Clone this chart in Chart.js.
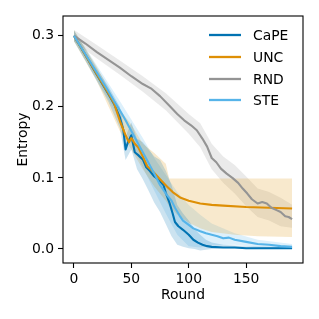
<!DOCTYPE html>
<html>
<head>
<meta charset="utf-8">
<script src="https://cdn.jsdelivr.net/npm/chart.js@4.4.1/dist/chart.umd.min.js"></script>
<style>
html,body{margin:0;padding:0;background:#fff;}
#wrap{width:319px;height:319px;}
</style>
</head>
<body>
<div id="wrap"><canvas id="c" width="319" height="319"></canvas></div>
<script>
// ---- data ----
const seriesNames = ["CaPE", "UNC", "RND", "STE"];
const xTicks = [0, 50, 100, 150];
const yTicks = [0.0, 0.1, 0.2, 0.3];

const capeRounds = [0,10,20,30,35,40,43,45,47,50,53,56,60,63,66,70,74,78,80,83,86,88,91,95,100,104,108,112,116,120,130,140,150,160,170,180,190];
const capeMean   = [0.300,0.273,0.245,0.218,0.204,0.185,0.168,0.140,0.150,0.160,0.136,0.132,0.126,0.115,0.110,0.102,0.097,0.090,0.079,0.066,0.050,0.038,0.032,0.027,0.020,0.013,0.009,0.006,0.004,0.003,0.002,0.002,0.001,0.001,0.001,0.001,0.001];
const capeBandRounds = [0,10,20,30,40,45,50,55,60,65,70,75,80,85,90,95,100,105,110,115,120,130,150,170,190];
const capeLo = [0.293,0.265,0.236,0.207,0.170,0.125,0.140,0.112,0.098,0.082,0.065,0.052,0.035,0.018,0.006,0.003,0.001,0.000,-0.002,-0.001,0.000,0.001,0.000,0.000,0.000];
const capeHi = [0.307,0.281,0.254,0.229,0.200,0.158,0.178,0.155,0.150,0.140,0.130,0.125,0.110,0.090,0.062,0.050,0.040,0.028,0.020,0.013,0.009,0.006,0.004,0.003,0.003];

const uncRounds = [0,10,20,30,35,40,45,48,50,53,56,60,64,67,70,75,81,86,93,100,110,120,130,150,170,190];
const uncMean   = [0.300,0.273,0.246,0.219,0.205,0.180,0.160,0.150,0.156,0.148,0.143,0.130,0.116,0.112,0.107,0.098,0.088,0.080,0.072,0.068,0.064,0.062,0.061,0.059,0.058,0.057];
const uncBandRounds = [0,20,40,50,60,70,80,83,90,100,110,120,140,160,190];
const uncLo = [0.292,0.236,0.166,0.140,0.112,0.088,0.068,0.060,0.048,0.037,0.029,0.024,0.020,0.018,0.017];
const uncHi = [0.308,0.256,0.196,0.175,0.148,0.135,0.120,0.099,0.099,0.099,0.099,0.099,0.099,0.099,0.099];

const rndRounds = [0,10,20,30,40,50,60,67,75,84,90,96,102,107,112,116,120,124,128,133,138,143,147,151,155,160,164,168,172,176,180,184,187,190];
const rndMean   = [0.300,0.289,0.277,0.266,0.255,0.243,0.232,0.226,0.215,0.200,0.190,0.181,0.174,0.167,0.155,0.144,0.128,0.122,0.113,0.106,0.100,0.093,0.085,0.078,0.070,0.064,0.066,0.064,0.058,0.055,0.052,0.046,0.045,0.042];
const rndBandRounds = [0,20,40,60,80,100,110,120,130,140,150,160,170,180,190];
const rndLo = [0.292,0.268,0.245,0.221,0.195,0.162,0.143,0.112,0.093,0.078,0.060,0.045,0.040,0.032,0.030];
const rndHi = [0.308,0.287,0.265,0.243,0.219,0.190,0.177,0.148,0.130,0.118,0.102,0.085,0.080,0.072,0.062];

const steRounds = [0,10,20,30,35,40,45,50,55,60,65,70,75,80,85,88,92,95,100,104,110,115,120,125,130,135,140,150,160,170,180,190];
const steMean   = [0.300,0.274,0.248,0.222,0.208,0.195,0.181,0.166,0.151,0.136,0.121,0.106,0.090,0.078,0.068,0.058,0.047,0.040,0.034,0.029,0.025,0.022,0.020,0.018,0.015,0.016,0.013,0.010,0.007,0.006,0.004,0.003];
const steBandRounds = [0,20,40,50,60,70,80,90,100,110,120,140,160,190];
const steLo = [0.292,0.238,0.182,0.150,0.115,0.082,0.050,0.020,0.004,0.002,0.005,0.006,0.002,0.000];
const steHi = [0.308,0.258,0.208,0.182,0.156,0.128,0.104,0.080,0.062,0.048,0.036,0.022,0.013,0.007];

// ---- styling ----
const colors = {CaPE:"#0173B2", UNC:"#DE8F05", RND:"#949494", STE:"#56B4E9"};
const fills  = {CaPE:"rgba(1,115,178,0.2)", UNC:"rgba(222,143,5,0.2)", RND:"rgba(148,148,148,0.2)", STE:"rgba(86,180,233,0.2)"};
const FONT = "'DejaVu Sans', sans-serif";
const FS = 13.9;

function pts(xs, ys){ return xs.map((x,i)=>({x:x, y:ys[i]})); }

function band(name, xs, lo, hi){
  return [
    {label:name+"_lo", data:pts(xs,lo), borderWidth:0, borderColor:"rgba(0,0,0,0)", pointRadius:0, fill:false, order:100},
    {label:name+"_hi", data:pts(xs,hi), borderWidth:0, borderColor:"rgba(0,0,0,0)", pointRadius:0, fill:"-1", backgroundColor:fills[name], order:100}
  ];
}
function line(name, xs, ys, ord){
  return {label:name, data:pts(xs,ys), borderColor:colors[name], borderWidth:2.1, pointRadius:0, fill:false, tension:0, borderJoinStyle:"round", order:ord};
}

const datasets = [
  ...band("CaPE", capeBandRounds, capeLo, capeHi),
  ...band("UNC", uncBandRounds, uncLo, uncHi),
  ...band("RND", rndBandRounds, rndLo, rndHi),
  ...band("STE", steBandRounds, steLo, steHi),
  line("CaPE", capeRounds, capeMean, 4),
  line("UNC", uncRounds, uncMean, 3),
  line("RND", rndRounds, rndMean, 2),
  line("STE", steRounds, steMean, 1)
];

const framePlugin = {
  id:"frame",
  afterDatasetsDraw(chart){
    const {ctx, chartArea:a} = chart;
    ctx.save();
    ctx.strokeStyle = "#000";
    ctx.lineWidth = 1.1;
    ctx.strokeRect(a.left, a.top, a.right - a.left, a.bottom - a.top);
    // legend
    ctx.font = FS + "px " + FONT;
    ctx.textBaseline = "middle";
    ctx.textAlign = "left";
    const rowY = [35, 57, 79, 100];
    seriesNames.forEach((n, i) => {
      ctx.strokeStyle = colors[n];
      ctx.lineWidth = 2.3;
      ctx.beginPath();
      ctx.moveTo(209, rowY[i]);
      ctx.lineTo(241, rowY[i]);
      ctx.stroke();
      ctx.fillStyle = "#000";
      ctx.fillText(n, 253, rowY[i] + 1);
    });
    ctx.restore();
  }
};

new Chart(document.getElementById("c"), {
  type:"line",
  data:{datasets},
  plugins:[framePlugin],
  options:{
    responsive:false,
    animation:false,
    devicePixelRatio:1,
    layout:{padding:{top:16, right:16, left:0, bottom:0}},
    plugins:{legend:{display:false}, tooltip:{enabled:false}},
    scales:{
      x:{
        type:"linear", min:-9.5, max:199.5,
        afterBuildTicks(s){ s.ticks = xTicks.map(v=>({value:v})); },
        afterFit(s){ s.height = 56; },
        grid:{drawOnChartArea:false, drawTicks:true, tickLength:5, tickColor:"#000", tickWidth:1.1},
        border:{display:false},
        ticks:{font:{family:FONT, size:FS}, color:"#000", padding:3, maxRotation:0, callback:v=>String(v)},
        title:{display:true, text:"Round", font:{family:FONT, size:FS}, color:"#000", padding:{top:0, bottom:15}}
      },
      y:{
        type:"linear", min:-0.0197, max:0.3277,
        afterBuildTicks(s){ s.ticks = yTicks.map(v=>({value:v})); },
        afterFit(s){ s.width = 63; },
        grid:{drawOnChartArea:false, drawTicks:true, tickLength:5, tickColor:"#000", tickWidth:1.1},
        border:{display:false},
        ticks:{font:{family:FONT, size:FS}, color:"#000", padding:4, callback:v=>v.toFixed(1)},
        title:{display:true, text:"Entropy", font:{family:FONT, size:FS}, color:"#000", padding:{top:15, bottom:0}}
      }
    }
  }
});
</script>
</body>
</html>
